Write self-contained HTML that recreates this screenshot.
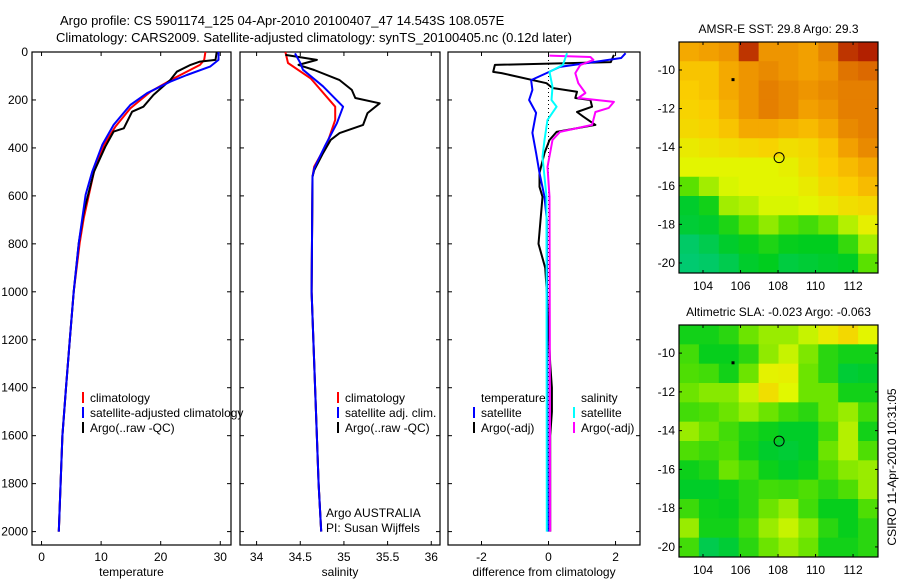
<!DOCTYPE html>
<html><head><meta charset="utf-8">
<style>
html,body{margin:0;padding:0;background:#fff;}
svg{display:block;font-family:"Liberation Sans",sans-serif;}
</style></head>
<body>
<svg id="fig" width="900" height="580" viewBox="0 0 900 580" xmlns="http://www.w3.org/2000/svg">
<text x="60" y="25" font-size="13">Argo profile: CS 5901174_125 04-Apr-2010 20100407_47 14.543S 108.057E</text>
<text x="56" y="42" font-size="13">Climatology: CARS2009. Satellite-adjusted climatology: synTS_20100405.nc (0.12d later)</text>
<g id="plots"></g>
</svg>
<script>
// ---- data ----
const depthTicks = [0,200,400,600,800,1000,1200,1400,1600,1800,2000];
const tempTicks = [0,10,20,30];
const salTicks = [34,34.5,35,35.5,36];
const diffTicks = [-2,0,2];
const lonTicks = [104,106,108,110,112];
const latTicks = [-10,-12,-14,-16,-18,-20];

const tClimDepth = [0,33,54,110,165,235,311,387,499,692,796,1000,1200,1400,1600,1800,2000];
const tClimVal   = [27.5,27.3,26.6,22.2,18.3,14.9,12.4,10.5,8.8,7.1,6.4,5.4,4.75,4.1,3.5,3.2,2.9];
const tSatDepth = [0,33,61,96,124,172,221,304,387,499,596,796,1000,1200,1400,1600,1800,2000];
const tSatVal   = [29.7,29.7,28.3,24.4,21.6,17.7,14.9,12.1,10.2,8.5,7.4,6.25,5.4,4.75,4.1,3.5,3.2,2.9];
const tArgoDepth = [0,33,40,54,82,117,179,228,249,318,332,395,499,666,796,1000,1200,1400,1600,1800,2000];
const tArgoVal   = [29.4,29.2,26.6,25,22.7,21.6,18.8,17.1,15.2,13.8,12.1,10.7,8.8,7.1,6.25,5.4,4.75,4.1,3.5,3.2,2.9];

const sClimDepth = [0,46,110,228,283,380,478,520,1000,1400,1800,2000];
const sClimVal   = [34.33,34.36,34.62,34.9,34.9,34.81,34.66,34.64,34.63,34.67,34.71,34.74];
const sSatDepth = [6,46,74,143,228,297,394,485,520,1000,1400,1800,2000];
const sSatVal   = [34.44,34.5,34.53,34.76,34.99,34.92,34.78,34.66,34.64,34.63,34.67,34.71,34.74];
const sArgoDepth = [12,33,54,75,117,158,192,214,255,304,338,366,422,493,520,1000,1400,1800,2000];
const sArgoVal   = [34.33,34.69,34.48,34.66,34.95,35.09,35.13,35.41,35.27,35.22,34.95,34.85,34.76,34.66,34.64,34.63,34.67,34.71,34.74];

const dTArgoDepth = [12,42,54,83,88,130,150,166,192,200,228,250,270,304,333,367,421,504,562,604,800,900,1000,1300,1400,1500,1600,2000];
const dTArgoVal   = [1.95,1.86,-1.6,-1.65,-1.4,-0.06,0.12,0.85,0.8,1.25,1.3,0.85,1.04,1.4,0.24,0.03,-0.12,-0.27,-0.27,-0.18,-0.3,-0.1,-0.05,0.05,0.1,0.1,0.05,0.05];
const dTSatDepth = [5,25,46,62,88,117,158,200,254,337,421,504,604,700,2000];
const dTSatVal   = [2.3,2.17,1.16,0.34,-0.06,-0.52,-0.48,-0.58,-0.37,-0.48,-0.37,-0.27,-0.12,-0.05,-0.02];
const dSSatDepth = [5,54,83,146,200,228,283,367,437,604,2000];
const dSSatVal   = [0.55,0.43,0.03,0.12,0.09,0.24,-0.03,-0.12,-0.18,-0.06,-0.05];
const dSArgoDepth = [15,21,33,54,88,130,171,192,208,233,250,304,333,367,479,604,2000];
const dSArgoVal   = [0.03,1.25,1.34,0.95,0.8,0.89,1.1,0.89,1.95,1.8,1.4,1.3,0.34,0.12,-0.03,0.03,0.05];

// map grids (0..1 colour index), rows north->south
const sstGrid = [
[.78,.8,.82,.95,.82,.82,.8,.85,.95,.97],
[.72,.72,.78,.82,.84,.82,.8,.82,.88,.9],
[.7,.72,.78,.82,.86,.84,.82,.84,.86,.86],
[.68,.7,.76,.82,.86,.84,.8,.82,.86,.86],
[.66,.68,.72,.78,.78,.76,.74,.78,.84,.86],
[.6,.62,.64,.66,.68,.64,.66,.72,.8,.84],
[.56,.56,.56,.56,.56,.58,.64,.7,.74,.78],
[.4,.48,.54,.56,.56,.56,.6,.66,.7,.74],
[.22,.28,.48,.5,.54,.54,.56,.6,.64,.66],
[.2,.22,.3,.4,.46,.4,.36,.42,.5,.58],
[.1,.15,.22,.26,.3,.26,.25,.25,.34,.48],
[.08,.1,.15,.22,.25,.18,.2,.22,.24,.4]];
const slaGrid = [
[.28,.28,.32,.42,.47,.47,.52,.6,.66,.56],
[.36,.26,.26,.32,.46,.52,.44,.32,.28,.28],
[.38,.36,.28,.42,.57,.58,.42,.32,.2,.22],
[.42,.45,.45,.52,.64,.55,.42,.42,.28,.28],
[.36,.38,.42,.47,.42,.36,.32,.42,.47,.36],
[.47,.42,.36,.3,.27,.23,.23,.36,.5,.28],
[.38,.35,.38,.28,.22,.2,.23,.42,.5,.38],
[.27,.3,.42,.36,.27,.23,.27,.38,.45,.47],
[.23,.23,.27,.32,.36,.35,.38,.32,.38,.47],
[.35,.27,.26,.32,.42,.47,.36,.26,.26,.38],
[.47,.28,.28,.36,.47,.52,.45,.32,.26,.32],
[.36,.15,.2,.32,.42,.47,.42,.28,.28,.32]];
const argoLon = 108.057, argoLat = -14.543;

// ---- drawing ----
const NS='http://www.w3.org/2000/svg';
const root=document.getElementById('plots');
function mk(tag,attrs,parent){const e=document.createElementNS(NS,tag);for(const k in attrs)e.setAttribute(k,attrs[k]);(parent||root).appendChild(e);return e;}
const Y0=52,Y1=545,PXPD=0.2398;
const yD=d=>Y0+d*PXPD;
function panel(name,x0,x1,vmin,vmax,xticks,lbl,showY){
  const g=mk('g',{});
  
  
  const xs=v=>x0+(v-vmin)*(x1-x0)/(vmax-vmin);
  const r=mk('rect',{x:x0,y:Y0,width:x1-x0,height:Y1-Y0,fill:'none',stroke:'#000','stroke-width':1.2},g);
  
  
  depthTicks.forEach(d=>{
    mk('line',{x1:x0,x2:x0+4,y1:yD(d),y2:yD(d),stroke:'#000'},g);
    mk('line',{x1:x1,x2:x1-4,y1:yD(d),y2:yD(d),stroke:'#000'},g);
    if(showY){const t=mk('text',{x:x0-4,y:yD(d)+4,'font-size':12,'text-anchor':'end'},g);t.textContent=d;
      
      }
  });
  xticks.forEach(v=>{
    mk('line',{x1:xs(v),x2:xs(v),y1:Y1,y2:Y1-4,stroke:'#000'},g);
    mk('line',{x1:xs(v),x2:xs(v),y1:Y0,y2:Y0+4,stroke:'#000'},g);
    const t=mk('text',{x:xs(v),y:Y1+16,'font-size':12,'text-anchor':'middle'},g);t.textContent=v;
    
    
  });
  const t=mk('text',{x:(x0+x1)/2,y:Y1+31,'font-size':12,'text-anchor':'middle'},g);t.textContent=lbl;
  
  
  return {g,xs};
}
function line(p,name,ds,vs,color,w,dash){
  const pts=ds.map((d,i)=>p.xs(vs[i]).toFixed(1)+','+yD(d).toFixed(1)).join(' ');
  const e=mk('polyline',{points:pts,fill:'none',stroke:color,'stroke-width':w||2,'stroke-linejoin':'round'},p.g);
  if(dash)e.setAttribute('stroke-dasharray',dash);
  
  
}
function legend(g,x,y,items){
  items.forEach((it,i)=>{
    if(it[1])mk('line',{x1:x,x2:x,y1:y+i*15-10,y2:y+i*15+1,stroke:it[1],'stroke-width':2},g);
    const t=mk('text',{x:x+7,y:y+i*15,'font-size':12},g);t.textContent=it[0];
    
    
  });
}
const pT=panel('temperature-panel',32,231,-1.6,31.8,tempTicks,'temperature',true);
line(pT,'temp-climatology-line',tClimDepth,tClimVal,'#f00');
line(pT,'temp-argo-line',tArgoDepth,tArgoVal,'#000');
line(pT,'temp-satellite-line',tSatDepth,tSatVal,'#00f');
legend(pT.g,83,402,[['climatology','#f00'],['satellite-adjusted climatology','#00f'],['Argo(..raw -QC)','#000']]);

const pS=panel('salinity-panel',240,440,33.81,36.1,salTicks,'salinity',false);
line(pS,'sal-climatology-line',sClimDepth,sClimVal,'#f00');
line(pS,'sal-argo-line',sArgoDepth,sArgoVal,'#000');
line(pS,'sal-satellite-line',sSatDepth,sSatVal,'#00f');
legend(pS.g,338,402,[['climatology','#f00'],['satellite adj. clim.','#00f'],['Argo(..raw -QC)','#000']]);
legend(pS.g,319,517,[['Argo AUSTRALIA',null],['PI: Susan Wijffels',null]]);

const pD=panel('difference-panel',448,640,-3.0,2.73,diffTicks,'difference from climatology',false);
line(pD,'zero-line',[0,2000],[0,0],'#000',1,'1,3');
line(pD,'dtemp-argo-line',dTArgoDepth,dTArgoVal,'#000');
line(pD,'dtemp-satellite-line',dTSatDepth,dTSatVal,'#00f');
line(pD,'dsal-argo-line',dSArgoDepth,dSArgoVal,'#f0f');
line(pD,'dsal-satellite-line',dSSatDepth,dSSatVal,'#0ff');
legend(pD.g,474,402,[['temperature',null],['satellite','#00f'],['Argo(-adj)','#000']]);
legend(pD.g,574,402,[['salinity',null],['satellite','#0ff'],['Argo(-adj)','#f0f']]);

function cmap(v){
  const s=[[0,[0,200,150]],[.25,[0,205,30]],[.4,[90,225,0]],[.55,[225,248,0]],[.7,[250,205,0]],[.8,[242,160,0]],[.9,[220,105,0]],[1,[160,0,0]]];
  for(let i=1;i<s.length;i++){if(v<=s[i][0]){const a=s[i-1],b=s[i],f=(v-a[0])/(b[0]-a[0]);
    return 'rgb('+a[1].map((c,j)=>Math.round(c+f*(b[1][j]-c))).join(',')+')';}}
  return 'rgb(160,0,0)';
}
function map(name,title,grid,x0,y0,x1,y1){
  const g=mk('g',{});
  
  
  const lon0=102.72,lon1=113.33,lat0=-8.55,lat1=-20.52;
  const xs=v=>x0+(v-lon0)*(x1-x0)/(lon1-lon0), ys=v=>y0+(v-lat0)*(y1-y0)/(lat1-lat0);
  const R=grid.length,C=grid[0].length,cw=(x1-x0)/C,ch=(y1-y0)/R;
  grid.forEach((row,i)=>row.forEach((v,j)=>{
    const c=mk('rect',{x:x0+j*cw,y:y0+i*ch,width:cw+0.5,height:ch+0.5,fill:cmap(v)},g);
    
    
  }));
  mk('rect',{x:x0,y:y0,width:x1-x0,height:y1-y0,fill:'none',stroke:'#000','stroke-width':1.2},g);
  lonTicks.forEach(v=>{mk('line',{x1:xs(v),x2:xs(v),y1:y1,y2:y1-3,stroke:'#000'},g);mk('line',{x1:xs(v),x2:xs(v),y1:y0,y2:y0+3,stroke:'#000'},g);
    const t=mk('text',{x:xs(v),y:y1+17,'font-size':12,'text-anchor':'middle'},g);t.textContent=v;
    
    });
  latTicks.forEach(v=>{mk('line',{x1:x0,x2:x0+3,y1:ys(v),y2:ys(v),stroke:'#000'},g);mk('line',{x1:x1,x2:x1-3,y1:ys(v),y2:ys(v),stroke:'#000'},g);
    const t=mk('text',{x:x0-4,y:ys(v)+4,'font-size':12,'text-anchor':'end'},g);t.textContent=v;
    
    });
  const c=mk('circle',{cx:xs(argoLon),cy:ys(argoLat),r:5,fill:'none',stroke:'#000','stroke-width':1},g);
  
  
  mk('rect',{x:xs(105.6)-1.5,y:ys(-10.5)-1.5,width:3,height:3,fill:'#000'},g);
  const t=mk('text',{x:(x0+x1)/2,y:y0-9,'font-size':12,'text-anchor':'middle'},g);t.textContent=title;
  
  
}
map('sst-map','AMSR-E SST: 29.8 Argo: 29.3',sstGrid,679,42,878,273);
map('sla-map','Altimetric SLA: -0.023 Argo: -0.063',slaGrid,679,325,878,557);
const ct=mk('text',{x:0,y:0,'font-size':12,'text-anchor':'middle',transform:'translate(896,467) rotate(-90)'});
ct.textContent='CSIRO 11-Apr-2010 10:31:05';


</script>
</body></html>
